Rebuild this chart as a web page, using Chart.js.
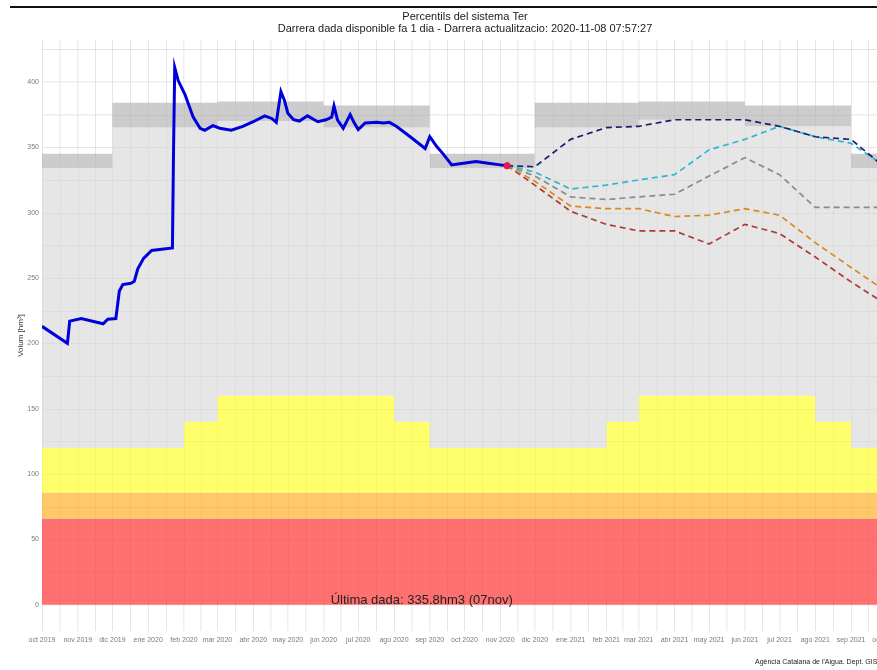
<!DOCTYPE html>
<html>
<head>
<meta charset="utf-8">
<script src="https://cdn.jsdelivr.net/npm/chart.js@4"></script>
<style>
  html, body { margin: 0; padding: 0; background: #fff; overflow: hidden; }
  #wrap { position: relative; width: 895px; height: 670px; }
  #topline { position: absolute; left: 10px; top: 6px; width: 885px; height: 0; border-top: 2px solid #111; }
</style>
</head>
<body>
<div id="wrap">
  <canvas id="chart" width="895" height="670"></canvas>
  <div id="topline"></div>
</div>
<script>
// Textos
const titleLines = ["Percentils del sistema Ter", "Darrera dada disponible fa 1 dia - Darrera actualitzacio: 2020-11-08 07:57:27"];
const yTitle = "Volum [hm\u00B3]";
const noteText = "\u00DAltima dada: 335.8hm3 (07nov)";
const caption = "Ag\u00E8ncia Catalana de l'Aigua. Dept. GIS";

// Eix x : inici de cada mes
const monthStarts = ["2019-10-01","2019-11-01","2019-12-01","2020-01-01","2020-02-01","2020-03-01","2020-04-01",
  "2020-05-01","2020-06-01","2020-07-01","2020-08-01","2020-09-01","2020-10-01","2020-11-01","2020-12-01",
  "2021-01-01","2021-02-01","2021-03-01","2021-04-01","2021-05-01","2021-06-01","2021-07-01","2021-08-01",
  "2021-09-01","2021-10-01"];
const monthLabels = ["oct 2019","nov 2019","dic 2019","ene 2020","feb 2020","mar 2020","abr 2020","may 2020",
  "jun 2020","jul 2020","ago 2020","sep 2020","oct 2020","nov 2020","dic 2020","ene 2021","feb 2021","mar 2021",
  "abr 2021","may 2021","jun 2021","jul 2021","ago 2021","sep 2021","oct 2021"];
const yTicks = [0, 25, 50, 75, 100, 125, 150, 175, 200, 225, 250, 275, 300, 325, 350, 375, 400, 425];

// Franges de fons (per estacions)
const bandDates = ["2019-10-01","2019-12-01","2020-03-01","2020-06-01","2020-09-01","2020-12-01","2021-03-01","2021-06-01","2021-09-01","2021-12-01"];
const bandLow  = [334, 365, 370, 365, 334, 365, 371, 366, 334, 334];
const bandHigh = [345, 384, 385, 382, 345, 384, 385, 382, 345, 345];
const yellowDates = ["2019-10-01","2020-02-01","2020-03-01","2020-08-01","2020-09-01","2021-02-01","2021-03-01","2021-08-01","2021-09-01","2021-12-01"];
const yellowTop = [120, 140, 160, 140, 120, 140, 160, 140, 120, 120];
const orangeTop = 86;
const redTop = 66;

// Volum observat
const obsDates = ["2019-10-01","2019-10-23","2019-10-25","2019-11-04","2019-11-23","2019-11-27","2019-12-04","2019-12-07",
  "2019-12-10","2019-12-17","2019-12-20","2019-12-23","2019-12-28","2020-01-04","2020-01-22","2020-01-23","2020-01-24",
  "2020-01-27","2020-02-02","2020-02-09","2020-02-15","2020-02-19","2020-02-26","2020-03-03","2020-03-13","2020-03-23",
  "2020-04-01","2020-04-11","2020-04-17","2020-04-21","2020-04-25","2020-04-28","2020-05-01","2020-05-06","2020-05-11",
  "2020-05-18","2020-05-27","2020-06-03","2020-06-08","2020-06-10","2020-06-13","2020-06-18","2020-06-24","2020-06-27",
  "2020-07-01","2020-07-07","2020-07-17","2020-07-23","2020-07-28","2020-08-03","2020-08-15","2020-08-28","2020-09-01",
  "2020-09-07","2020-09-12","2020-09-20","2020-09-27","2020-10-11","2020-10-20","2020-11-01","2020-11-07"];
const obsValues = [213, 200, 217, 219, 215, 218.5, 219, 240,
  245, 246, 247.5, 257, 265, 271, 273, 350, 411,
  401, 390, 373, 364.5, 363, 366.5, 364.5, 363, 366,
  369.5, 374, 372, 369, 392.5, 386, 376, 371, 370,
  374, 369.5, 371, 373, 381.5, 371, 364.5, 375, 369.5,
  363.5, 368.5, 369, 368.5, 369, 366, 358, 349, 358,
  350.5, 345.5, 336.5, 337.3, 339, 338, 336.5, 335.8];

// Escenaris de previsio
const fcDates = ["2020-11-07","2020-12-01","2021-01-01","2021-02-01","2021-03-01","2021-04-01","2021-05-01","2021-06-01","2021-07-01","2021-08-01","2021-09-01","2021-10-01"];
const fcNavy   = [336, 335, 356, 365, 366, 371, 371, 371, 366, 358, 356, 334];
const fcCyan   = [336, 331, 318, 321, 325, 329, 348, 356, 366, 358, 353, 335];
const fcGrey   = [336, 328, 312, 310, 312, 314, 328, 342, 329, 304, 304, 304];
const fcOrange = [336, 324, 305, 303, 303, 297, 298, 303, 298, 277, 258, 240];
const fcBrown  = [336, 321, 301, 291, 286, 286, 276, 291, 284, 266, 247, 230];

const ORIGIN = Date.UTC(2019, 9, 1);
function day(s) {
  const [y, m, d] = s.split("-").map(Number);
  return (Date.UTC(y, m - 1, d) - ORIGIN) / 86400000;
}
const pts = (dates, vals) => dates.map((d, i) => ({ x: day(d), y: Array.isArray(vals) ? vals[i] : vals }));

// ticks x: inici de mes + mig de mes (linies menors)
const labelAt = {};
const xTicks = [];
monthStarts.forEach((m, i) => {
  const d = day(m);
  labelAt[d] = monthLabels[i];
  xTicks.push(d);
  if (i < monthStarts.length - 1) xTicks.push((d + day(monthStarts[i + 1])) / 2);
});

const FONT = "'Liberation Sans', Arial, sans-serif";
Chart.defaults.font.family = FONT;

function band(data, color, fill, order) {
  return { data, stepped: "before", borderWidth: 0, borderColor: "transparent", pointRadius: 0,
           backgroundColor: color, fill, order };
}
function forecast(vals, color) {
  return { data: pts(fcDates, vals), borderColor: color, borderWidth: 1.7, borderDash: [6, 4],
           pointRadius: 0, fill: false, tension: 0, order: 2 };
}

// graella suau per sobre de les franges
const gridOverlay = {
  id: "gridOverlay",
  afterDatasetDraw(chart, args) {
    if (args.index !== 4) return;
    const { ctx, chartArea: a, scales: { x, y } } = chart;
    ctx.save();
    ctx.beginPath();
    ctx.rect(a.left, a.top, a.right - a.left, a.bottom - a.top);
    ctx.clip();
    ctx.strokeStyle = "rgba(0,0,0,0.035)";
    ctx.lineWidth = 1;
    ctx.beginPath();
    xTicks.forEach(v => {
      const p = Math.round(x.getPixelForValue(v)) + 0.5;
      ctx.moveTo(p, a.top); ctx.lineTo(p, a.bottom);
    });
    yTicks.forEach(v => {
      const p = Math.round(y.getPixelForValue(v)) + 0.5;
      ctx.moveTo(a.left, p); ctx.lineTo(a.right, p);
    });
    ctx.stroke();
    ctx.restore();
  }
};

const extras = {
  id: "extras",
  afterDraw(chart) {
    const { ctx, chartArea, scales } = chart;
    ctx.save();
    ctx.fillStyle = "#1a1a1a";
    ctx.textAlign = "center";
    ctx.textBaseline = "middle";
    ctx.font = "11px " + FONT;
    const cx = (chartArea.left + chartArea.right) / 2;
    ctx.fillText(titleLines[0], cx, 17);
    ctx.fillText(titleLines[1], cx, 29);
    ctx.font = "13px " + FONT;
    ctx.fillStyle = "#222";
    ctx.fillText(noteText, scales.x.getPixelForValue(day("2020-08-25")), scales.y.getPixelForValue(0) - 4);
    ctx.font = "7px " + FONT;
    ctx.textAlign = "left";
    ctx.fillStyle = "#222";
    ctx.fillText(caption, 755, 662);
    ctx.restore();
  }
};

const last = obsDates.length - 1;

new Chart(document.getElementById("chart"), {
  type: "line",
  data: {
    datasets: [
      band(pts(bandDates, redTop), "#ff7070", "origin", 14),
      band(pts(bandDates, orangeTop), "#ffc868", "-1", 13),
      band(pts(yellowDates, yellowTop), "#ffff6c", "-1", 12),
      band(pts(bandDates, bandLow), "#e6e6e6", "-1", 11),
      band(pts(bandDates, bandHigh), "#cccccc", "-1", 10),
      forecast(fcNavy, "#1d1d70"),
      forecast(fcCyan, "#2fb6cf"),
      forecast(fcGrey, "#8a8a8a"),
      forecast(fcOrange, "#d98b18"),
      forecast(fcBrown, "#ae3a3a"),
      { data: pts(obsDates, obsValues), borderColor: "#0000dd", borderWidth: 3, pointRadius: 0,
        fill: false, tension: 0, order: 1 },
      { data: [{ x: day(obsDates[last]), y: obsValues[last] }], borderColor: "#e8174a",
        backgroundColor: "#e8174a", pointRadius: 3.2, showLine: false, order: 0 }
    ]
  },
  options: {
    responsive: false,
    animation: false,
    events: [],
    layout: { padding: { left: 0, right: 7, top: 40, bottom: 0 } },
    plugins: { legend: { display: false }, tooltip: { enabled: false }, title: { display: false } },
    scales: {
      x: {
        type: "linear",
        min: 0,
        max: 733,
        afterBuildTicks: (s) => { s.ticks = xTicks.map(v => ({ value: v })); },
        afterFit: (s) => { s.height = 39; s.paddingLeft = 0; s.paddingRight = 0; },
        grid: { color: "#eeeeee", lineWidth: 1, drawTicks: false },
        border: { display: false },
        ticks: {
          autoSkip: false, maxRotation: 0, minRotation: 0, padding: 5,
          color: "#7a7a7a", font: { size: 7 },
          callback: (v) => labelAt[v] || ""
        }
      },
      y: {
        min: -20,
        max: 432,
        afterBuildTicks: (s) => { s.ticks = yTicks.map(v => ({ value: v })); },
        afterFit: (s) => { s.width = 42; },
        grid: { color: "#eeeeee", lineWidth: 1, drawTicks: false },
        border: { display: false },
        ticks: {
          padding: 3, color: "#7a7a7a", font: { size: 7 },
          callback: (v) => (v % 50 === 0 ? v : "")
        },
        title: { display: true, text: yTitle, color: "#333", font: { size: 8 }, padding: { top: 16, bottom: 0 } }
      }
    }
  },
  plugins: [gridOverlay, extras]
});
</script>
</body>
</html>
